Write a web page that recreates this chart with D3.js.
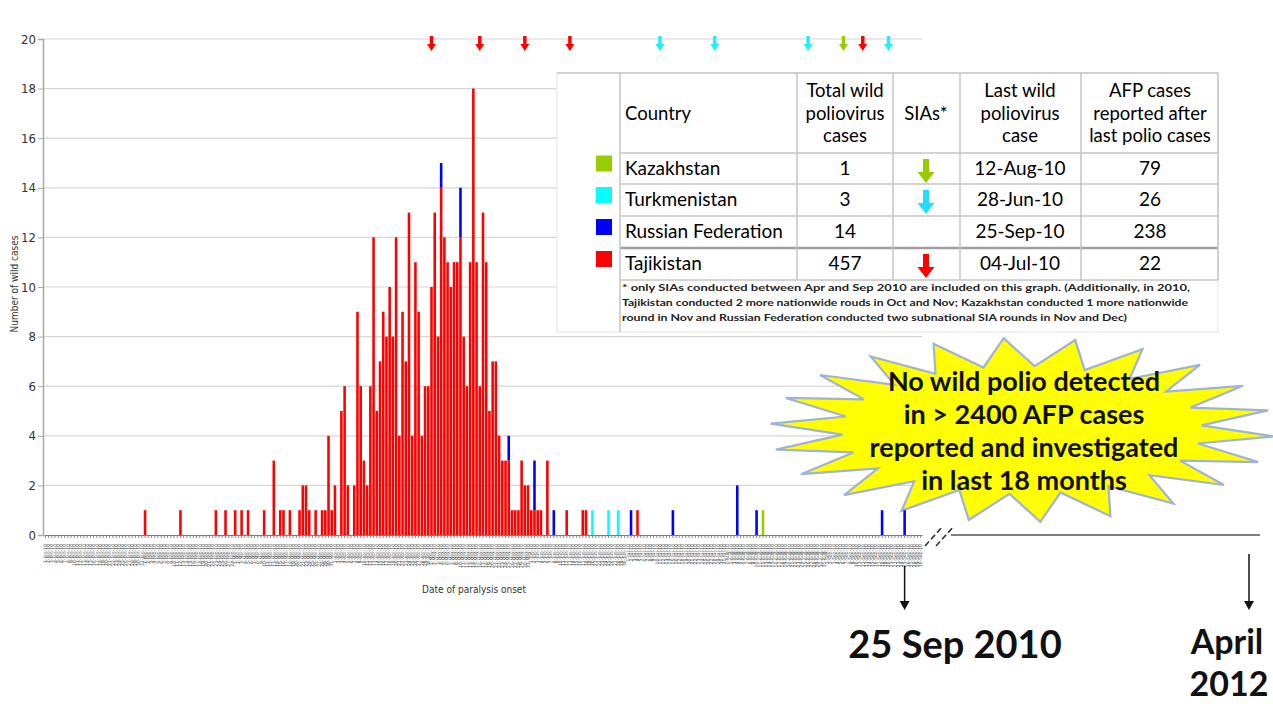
<!DOCTYPE html>
<html>
<head>
<meta charset="utf-8">
<script src="https://cdn.jsdelivr.net/npm/d3@7"></script>
<style>
  body { margin: 0; background: #fff; }
  svg { display: block; font-family: Lato, "Open Sans", sans-serif; }
  .narrow { font-family: "Liberation Sans Narrow", "DejaVu Sans Condensed", sans-serif; }
</style>
</head>
<body>
<svg id="chart" width="1273" height="704"></svg>
<script>
// ---- values ----
const countries = ["Tajikistan", "Russian Federation", "Turkmenistan", "Kazakhstan"]
const colors    = ["#ff0000", "#0000ff", "#00ffff", "#99cc00"]

// Tajikistan, single cases outside the April/May peak
const tajikSparse = [
  ["01-Feb-10",1],["12-Feb-10",1],["23-Feb-10",1],["26-Feb-10",1],["01-Mar-10",1],
  ["03-Mar-10",1],["05-Mar-10",1],["10-Mar-10",1],["13-Mar-10",3],["15-Mar-10",1],
  ["16-Mar-10",1],["18-Mar-10",1],["21-Mar-10",1],["22-Mar-10",2],["23-Mar-10",2],
  ["24-Mar-10",1],["26-Mar-10",1],["28-Mar-10",1],["29-Mar-10",1],["30-Mar-10",4],
  ["31-Mar-10",1],["01-Jun-10",1],["02-Jun-10",1],["03-Jun-10",1],["04-Jun-10",1],
  ["06-Jun-10",3],["12-Jun-10",1],["17-Jun-10",1],["18-Jun-10",1],["04-Jul-10",1]
]
// Tajikistan, daily cases 1..30 April and 1..31 May
const tajikApril = [2,0,5,6,2,0,2,9,6,3,2,6,12,5,7,9,8,10,8,12,4,9,7,13,4,11,9,4,6,6]
const tajikMay   = [10,13,8,14,12,11,10,11,11,12,8,6,11,18,11,6,13,11,5,7,7,4,3,3,3,1,1,1,3,2,2]

const russia = [
  ["04-May-10",1],["10-May-10",2],["25-May-10",1],["02-Jun-10",2],["08-Jun-10",1],
  ["02-Jul-10",1],["15-Jul-10",1],["04-Aug-10",2],["10-Aug-10",1],["18-Sep-10",1],["25-Sep-10",1]
]
const turkmenistan = [["20-Jun-10",1],["25-Jun-10",1],["28-Jun-10",1]]
const kazakhstan   = [["12-Aug-10",1]]

// supplementary immunization rounds (arrows on top)
const siaTajik   = ["01-May-10","16-May-10","30-May-10","13-Jun-10","12-Sep-10"]
const siaTurkmen = ["11-Jul-10","28-Jul-10","26-Aug-10","20-Sep-10"]
const siaKazakh  = ["06-Sep-10"]

const yTicks = [0,2,4,6,8,10,12,14,16,18,20]

const tableHead = [
  ["Country"],
  ["Total wild","poliovirus","cases"],
  ["SIAs*"],
  ["Last wild","poliovirus","case"],
  ["AFP cases","reported after","last polio cases"]
]
const tableRows = [
  ["Kazakhstan", "1", true, "12-Aug-10", "79"],
  ["Turkmenistan", "3", true, "28-Jun-10", "26"],
  ["Russian Federation", "14", false, "25-Sep-10", "238"],
  ["Tajikistan", "457", true, "04-Jul-10", "22"]
]
const tableColor = ["#99cc00", "#00ffff", "#0000ff", "#ff0000"]
const footnote = [
  "* only SIAs conducted between Apr and Sep 2010 are included on this graph. (Additionally, in 2010,",
  "Tajikistan conducted 2 more nationwide rouds in Oct and Nov; Kazakhstan conducted 1 more nationwide",
  "round in Nov  and Russian Federation conducted two subnational SIA  rounds in Nov and Dec)"
]
const burstText = ["No wild polio detected", "in > 2400 AFP cases", "reported and investigated", "in last 18 months"]

// ---- build daily table ----
const fmt   = d3.timeFormat("%d-%b-%y")
const label = d3.timeFormat("%-d-%b-%y")
const parse = d3.timeParse("%d-%b-%y")
const days  = d3.timeDay.range(new Date(2010, 0, 1), new Date(2010, 9, 1))

const byDay = new Map(days.map(d => {
  const row = { key: fmt(d) }
  countries.forEach(c => row[c] = 0)
  return [row.key, row]
}))
tajikSparse.forEach(([k, v]) => byDay.get(k).Tajikistan += v)
tajikApril.forEach((v, i) => byDay.get(fmt(new Date(2010, 3, i + 1))).Tajikistan += v)
tajikMay.forEach((v, i) => byDay.get(fmt(new Date(2010, 4, i + 1))).Tajikistan += v)
russia.forEach(([k, v]) => byDay.get(k)["Russian Federation"] += v)
turkmenistan.forEach(([k, v]) => byDay.get(k).Turkmenistan += v)
kazakhstan.forEach(([k, v]) => byDay.get(k).Kazakhstan += v)
const rows = Array.from(byDay.values())

const stacked = d3.stack().keys(countries)(rows)

// ---- scales ----
const svg = d3.select("#chart")
const x = d3.scaleBand().domain(rows.map(d => d.key)).range([44, 922]).paddingInner(0.2).paddingOuter(0)
const y = d3.scaleLinear().domain([0, 20]).range([535, 39])
const color = d3.scaleOrdinal().domain(countries).range(colors)
const cx = k => x(k) + x.bandwidth() / 2

// grid
svg.append("g").selectAll("line").data(yTicks.filter(t => t > 0)).join("line")
  .attr("x1", 44).attr("x2", 922)
  .attr("y1", d => y(d)).attr("y2", d => y(d))
  .attr("stroke", "#d6d6d6").attr("stroke-width", 1.2)

// starburst
const bx = 1022, by = 430
const pts = d3.range(44).map(i => {
  const a = (i / 44) * 2 * Math.PI + 0.07
  const outer = i % 2 === 0
  const rx = outer ? 252 : 180, ry = outer ? 92 : 64
  return [bx + rx * Math.cos(a), by + ry * Math.sin(a)]
})
svg.append("path")
  .attr("d", d3.line()(pts) + "Z")
  .attr("fill", "#ffff00").attr("stroke", "#9fb3d6").attr("stroke-width", 2.2)
svg.append("g").selectAll("text").data(burstText).join("text")
  .attr("x", bx + 2).attr("y", (d, i) => 391 + i * 33)
  .attr("text-anchor", "middle")
  .attr("font-size", 27).attr("font-weight", 700).attr("fill", "#111")
  .text(d => d)

// bars
svg.append("g").selectAll("g").data(stacked).join("g")
  .attr("fill", d => color(d.key))
  .selectAll("rect").data(d => d.filter(s => s[1] > s[0])).join("rect")
    .attr("x", d => x(d.data.key))
    .attr("width", x.bandwidth())
    .attr("y", d => y(d[1]))
    .attr("height", d => y(d[0]) - y(d[1]))

// y axis
const yAxis = svg.append("g").attr("transform", "translate(43,0)")
  .call(d3.axisLeft(y).tickValues(yTicks).tickSize(5).tickPadding(2))
yAxis.select(".domain").attr("stroke", "#a8a8a8").attr("stroke-width", 1.5)
yAxis.selectAll(".tick line").attr("stroke", "#a8a8a8")
yAxis.selectAll("text").attr("class", "narrow").attr("font-size", 13).attr("fill", "#333")

// x axis
const xAxis = svg.append("g").attr("transform", "translate(0,535)")
  .call(d3.axisBottom(x).tickSize(3).tickSizeOuter(0).tickFormat(k => label(parse(k))))
xAxis.select(".domain").attr("stroke", "#777").attr("stroke-width", 1.2)
xAxis.selectAll(".tick line").attr("stroke", "#888")
xAxis.selectAll("text")
  .attr("class", "narrow")
  .attr("font-size", 5).attr("fill", "#555")
  .attr("transform", "rotate(-90)")
  .attr("text-anchor", "end")
  .attr("x", -9).attr("y", 0).attr("dy", "0.35em")

svg.append("text").attr("class", "narrow")
  .attr("transform", "translate(18,284) rotate(-90)")
  .attr("text-anchor", "middle").attr("font-size", 10).attr("fill", "#333")
  .text("Number of wild cases")
svg.append("text").attr("class", "narrow")
  .attr("x", 474).attr("y", 593)
  .attr("text-anchor", "middle").attr("font-size", 10).attr("fill", "#333")
  .text("Date of paralysis onset")

// SIA arrows on the top line
function arrow (g, xc, top, w, h, shaft, head, fill) {
  const s = shaft / 2, hw = w / 2, hy = top + h - head
  g.append("path")
    .attr("d", `M${xc - s},${top}H${xc + s}V${hy}H${xc + hw}L${xc},${top + h}L${xc - hw},${hy}H${xc - s}Z`)
    .attr("fill", fill)
}
const siaG = svg.append("g")
siaTajik.forEach(k => arrow(siaG, cx(k), 36, 9, 15, 3.5, 7, "#ff0000"))
siaTurkmen.forEach(k => arrow(siaG, cx(k), 36, 9, 15, 3.5, 7, "#22eeff"))
siaKazakh.forEach(k => arrow(siaG, cx(k), 36, 9, 15, 3.5, 7, "#99cc00"))

// broken axis continuation and date markers
svg.append("line").attr("x1", 951).attr("x2", 1260).attr("y1", 535).attr("y2", 535)
  .attr("stroke", "#555").attr("stroke-width", 1.5)
svg.append("g").selectAll("line").data([0, 11]).join("line")
  .attr("x1", d => 925 + d).attr("y1", 546).attr("x2", d => 943 + d).attr("y2", 526)
  .attr("stroke", "#333").attr("stroke-width", 1.6).attr("stroke-dasharray", "6,3")

function downArrow (xc, y0, y1) {
  svg.append("line").attr("x1", xc).attr("x2", xc).attr("y1", y0).attr("y2", y1 - 8)
    .attr("stroke", "#111").attr("stroke-width", 1.5)
  svg.append("path").attr("d", `M${xc - 5},${y1 - 9}L${xc + 5},${y1 - 9}L${xc},${y1}Z`).attr("fill", "#111")
}
downArrow(cx("25-Sep-10"), 566, 610)
downArrow(1249, 554, 610)

svg.append("text").attr("x", 955).attr("y", 658).attr("text-anchor", "middle")
  .attr("font-size", 38).attr("font-weight", 700).attr("fill", "#111").text("25 Sep 2010")
svg.append("text").attr("x", 1227).attr("y", 654).attr("text-anchor", "middle")
  .attr("font-size", 34).attr("font-weight", 700).attr("fill", "#111").text("April")
svg.append("text").attr("x", 1229).attr("y", 696).attr("text-anchor", "middle")
  .attr("font-size", 34).attr("font-weight", 700).attr("fill", "#111").text("2012")

// table
const colX = [557, 620, 797, 893, 960, 1081, 1218]
const rowY = [73, 153, 184, 216, 248, 280]
const tbl = svg.append("g")
tbl.append("rect").attr("x", 557).attr("y", 73).attr("width", 661).attr("height", 259)
  .attr("fill", "#fff").attr("stroke", "#e4e4e4")
tbl.selectAll(".hl").data(rowY).join("line")
  .attr("x1", (d, i) => i === 0 ? 557 : 620).attr("x2", 1218)
  .attr("y1", d => d).attr("y2", d => d)
  .attr("stroke", (d, i) => i === 4 ? "#a0a0a0" : "#c4c4c4")
  .attr("stroke-width", (d, i) => i === 4 ? 2.5 : 1.5)
tbl.selectAll(".vl").data(colX.slice(1)).join("line")
  .attr("x1", d => d).attr("x2", d => d).attr("y1", 73).attr("y2", (d, i) => i === 0 ? 332 : 280)
  .attr("stroke", "#c4c4c4").attr("stroke-width", 1.5)

const colMid = [null, 845, 926, 1020, 1150]
tableHead.forEach((lines, c) => {
  const t = tbl.append("text").attr("font-size", 18.5).attr("fill", "#000")
    .attr("text-anchor", c === 0 ? "start" : "middle")
    .attr("x", c === 0 ? 625 : colMid[c])
  const y0 = lines.length === 1 ? 120 : 97
  lines.forEach((s, i) => t.append("tspan").attr("x", c === 0 ? 625 : colMid[c]).attr("y", y0 + i * 22.5).text(s))
})
tableRows.forEach((r, i) => {
  const base = rowY[i + 1] + 22
  const mid = (rowY[i + 1] + rowY[i + 2]) / 2
  tbl.append("rect").attr("x", 596).attr("y", mid - 13).attr("width", 16).attr("height", 16)
    .attr("fill", tableColor[i])
  tbl.append("text").attr("x", 625).attr("y", base).attr("font-size", 19).attr("fill", "#000").text(r[0])
  tbl.append("text").attr("x", colMid[1]).attr("y", base).attr("text-anchor", "middle")
    .attr("font-size", 19).attr("fill", "#000").text(r[1])
  if (r[2]) arrow(tbl, colMid[2], rowY[i + 1] + 6, 17, 24, 6, 11, tableColor[i] === "#00ffff" ? "#22ddff" : tableColor[i])
  tbl.append("text").attr("x", colMid[3]).attr("y", base).attr("text-anchor", "middle")
    .attr("font-size", 19).attr("fill", "#000").text(r[3])
  tbl.append("text").attr("x", colMid[4]).attr("y", base).attr("text-anchor", "middle")
    .attr("font-size", 19).attr("fill", "#000").text(r[4])
})
tbl.append("g").selectAll("text").data(footnote).join("text")
  .attr("x", 622).attr("y", (d, i) => 291 + i * 15)
  .attr("font-size", 10).attr("font-weight", 700).attr("fill", "#222")
  .attr("textLength", (d, i) => [568, 566, 505][i]).attr("lengthAdjust", "spacingAndGlyphs")
  .text(d => d)
</script>
</body>
</html>
